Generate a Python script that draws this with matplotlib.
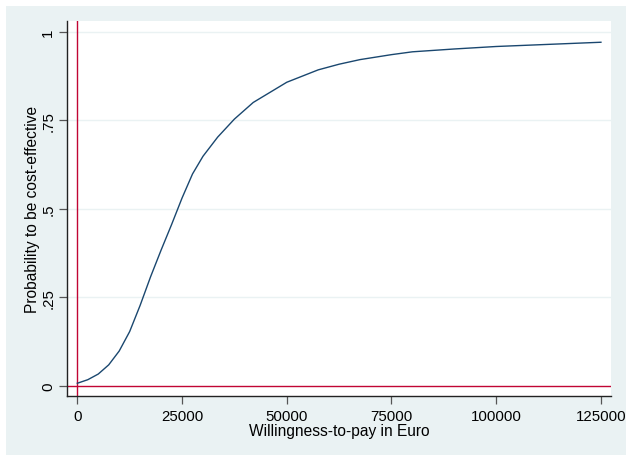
import matplotlib
matplotlib.use("Agg")
import matplotlib.pyplot as plt
from matplotlib.patches import Rectangle

# Willingness-to-pay (Euro) and probability of being cost-effective
wtp = [0, 2500, 5000, 7500, 10000, 12500, 15000, 17500, 20000, 22500,
       25000, 27500, 30000, 33500, 37500, 42000, 50000, 57500, 62500,
       67500, 75000, 80000, 90000, 100000, 125000]
prob = [0.007, 0.017, 0.033, 0.059, 0.098, 0.153, 0.227, 0.308, 0.383, 0.455,
        0.530, 0.598, 0.648, 0.702, 0.753, 0.800, 0.857, 0.892, 0.908,
        0.921, 0.935, 0.943, 0.951, 0.958, 0.970]

x_ticks = [0, 25000, 50000, 75000, 100000, 125000]
y_ticks = [0, 0.25, 0.5, 0.75, 1]
y_tick_labels = ["0", ".25", ".5", ".75", "1"]

plt.rcParams["font.family"] = ["Liberation Sans", "DejaVu Sans"]

bg = "#EAF2F3"
navy = "#1A476F"
red = "#C10534"

fig = plt.figure(figsize=(6.26, 4.56), dpi=100, facecolor="white")
# outer graph region (Stata style)
fig.patches.append(Rectangle((6 / 626, 0), 620 / 626, 449 / 456,
                             transform=fig.transFigure, facecolor=bg,
                             edgecolor="none", zorder=-5))

ax = fig.add_axes([67 / 626, 59 / 456, 544 / 626, 375 / 456])
ax.set_zorder(1)
ax.set_facecolor("white")

ax.set_xlim(-2460, 127400)
ax.set_ylim(-0.029, 1.030)

for yv in y_ticks[1:]:
    ax.axhline(yv, color=bg, linewidth=1.0, zorder=1)

ax.axvline(0, color=red, linewidth=1.0, zorder=2)
ax.axhline(0, color=red, linewidth=1.0, zorder=2)
ax.plot(wtp, prob, color=navy, linewidth=1.0, zorder=3)

ax.set_xticks(x_ticks)
ax.set_xticklabels([str(v) for v in x_ticks])
ax.set_yticks(y_ticks)
ax.set_yticklabels(y_tick_labels, rotation=90, va="center")

for s in ["top", "right"]:
    ax.spines[s].set_visible(False)
for s in ["left", "bottom"]:
    ax.spines[s].set_color("#222222")
    ax.spines[s].set_linewidth(1.0)

ax.tick_params(axis="both", direction="out", length=6, width=0.9,
               color="#555555", labelsize=10.8, labelcolor="black")
ax.tick_params(axis="x", pad=3.5)
ax.tick_params(axis="y", pad=2.5)

ax.set_xlabel("Willingness-to-pay in Euro", fontsize=11.2, labelpad=0)
ax.set_ylabel("Probability to be cost-effective", fontsize=11.2, labelpad=1)

fig.savefig("out.png", dpi=100, facecolor=fig.get_facecolor())
